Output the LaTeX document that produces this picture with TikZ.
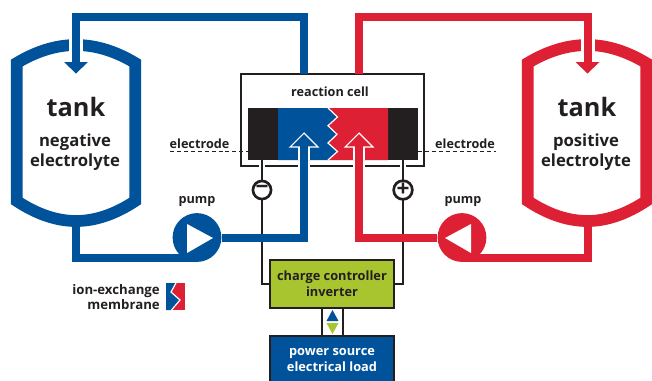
\documentclass[tikz,border=0pt]{standalone}
\usepackage{fontspec}
\setmainfont{Open Sans}
\definecolor{fbblue}{HTML}{00529B}
\definecolor{fbred}{HTML}{DD2033}
\definecolor{fbgreen}{HTML}{A8C530}
\definecolor{fbdark}{HTML}{231F20}
\tikzset{
  tankwall/.style={line width=8.8pt,line join=miter},
  pipe/.style={line width=6pt,line join=miter},
  casing/.style={white,line width=8.4pt},
  wire/.style={fbdark,line width=1.6pt,line join=miter},
  wirecase/.style={white,line width=4.6pt},
  lbl/.style={font=\bfseries\fontsize{9.5}{11}\selectfont,text=fbdark,inner sep=0pt},
  biglbl/.style={font=\bfseries\fontsize{12.5}{15}\selectfont,text=fbdark,inner sep=0pt,align=center},
  tanklbl/.style={font=\bfseries\fontsize{19}{22}\selectfont,text=fbdark,inner sep=0pt},
  pumpnode/.style={circle,minimum size=36.6pt,inner sep=0pt},
  polar/.style={circle,draw=fbdark,fill=white,line width=2pt,minimum size=13.6pt,inner sep=0pt,font=\bfseries\fontsize{17}{17}\selectfont,text=fbdark},
  boxctl/.style={draw=fbdark,line width=2pt,inner sep=0pt,align=center,font=\bfseries\fontsize{9.6}{12}\selectfont},
}
\begin{document}
\begin{tikzpicture}[x=0.75pt,y=-0.75pt]
\useasboundingbox (0,0) rectangle (652,380);
% named points
\coordinate (LT) at (76,45); \coordinate (RT) at (587.5,45);
\coordinate (Lhead) at (76,64); \coordinate (Rhead) at (587.5,64);
\coordinate (Ltop) at (76,17); \coordinate (Rtop) at (587.5,17);
\coordinate (Lcell) at (304,17); \coordinate (Rcell) at (359,17);
\coordinate (Lbot) at (76,258); \coordinate (Rbot) at (587.5,258);
\coordinate (Lin) at (304,237.5); \coordinate (Rin) at (359,237.5);
\coordinate (Lup) at (304,147); \coordinate (Rup) at (359,147);

% tanks
\draw[tankwall,fbblue] (16.8,63) .. controls (35,52) and (55,45) .. (LT)
   .. controls (97,45) and (117,52) .. (135.2,63) -- (135.2,201)
   .. controls (117,213) and (97,221) .. (76,221)
   .. controls (55,221) and (35,213) .. (16.8,201) -- cycle;
\draw[tankwall,fbred] (527.8,63) .. controls (546,52) and (566,45) .. (RT)
   .. controls (608,45) and (628,52) .. (646.2,63) -- (646.2,201)
   .. controls (628,213) and (608,221) .. (587.5,221)
   .. controls (566,221) and (546,213) .. (527.8,201) -- cycle;
\fill[white] (69,30) rectangle (83,58);
\fill[white] (580.5,30) rectangle (594.5,58);

% pumps
\node[pumpnode,fill=fbblue] (pumpL) at (197,237.5) {};
\node[pumpnode,fill=fbred] (pumpR) at (462,237.5) {};
\fill[white] (187,224) -- (213,238) -- (187,253) -- cycle;
\fill[white] (471,224) -- (445,238) -- (471,253) -- cycle;

% reaction cell
\node[draw=fbdark,fill=white,line width=1.6pt,minimum width=137pt,minimum height=69pt,inner sep=0pt] (cell) at (332.5,120) {};
\fill[fbdark] (248,108) rectangle (278,160);
\fill[fbdark] (388,108) rectangle (418,160);
\fill[fbblue] (278,108) -- (328,108) -- (337.5,117) -- (328,125.7) -- (337,134.3) -- (328,143) -- (337.5,151.5) -- (328,160) -- (278,160) -- cycle;
\fill[fbred] (388,108) -- (328,108) -- (337.5,117) -- (328,125.7) -- (337,134.3) -- (328,143) -- (337.5,151.5) -- (328,160) -- (388,160) -- cycle;
\draw[white,line width=0.9pt] (328,108) -- (337.5,117) -- (328,125.7) -- (337,134.3) -- (328,143) -- (337.5,151.5) -- (328,160);
\draw[fbdark,line width=0.7pt,dash pattern=on 3pt off 2.2pt] (170,151) -- (248,151);
\draw[fbdark,line width=0.7pt,dash pattern=on 3pt off 2.2pt] (418,151) -- (496,151);

% controller, power
\node[boxctl,fill=fbgreen,text=fbdark,minimum width=93pt,minimum height=36pt] (ctl) at (332,284) {charge controller\\inverter};
\node[boxctl,fill=fbblue,text=white,minimum width=93pt,minimum height=36pt] (pwr) at (332,360) {power source\\electrical load};

% wires
\coordinate (Wl) at (262,284); \coordinate (Wr) at (403,284);
\coordinate (Wl0) at (262,160); \coordinate (Wr0) at (403,160);
\draw[wirecase] (Wl0) -- (262,175);
\draw[wirecase] (Wr0) -- (403,175);
\draw[wire] (Wl0) -- (Wl) -- (ctl.west |- Wl);
\draw[wire] (Wr0) -- (Wr) -- (ctl.east |- Wr);
\node[polar] (minus) at (262,190) {−};
\node[polar] (plus) at (403,190) {+};
\draw[wire] (322,308) -- (322,336);
\draw[wire] (343,308) -- (343,336);
\fill[fbblue] (332.5,310) -- (338.5,321) -- (326.5,321) -- cycle;
\fill[fbgreen] (332.5,334) -- (338.5,323) -- (326.5,323) -- cycle;

% pipes
\draw[pipe,fbblue,line cap=butt] (Lhead) -- (Ltop) -- (Lcell) -- (304,74);
\draw[pipe,fbred,line cap=butt] (Rhead) -- (Rtop) -- (Rcell) -- (359,74);
\fill[fbblue] (64,62) -- (88,62) -- (76,73.5) -- cycle;
\fill[fbred] (575.5,62) -- (599.5,62) -- (587.5,73.5) -- cycle;
\draw[pipe,fbblue] (76,224) -- (Lbot) -- (197,258);
\draw[pipe,fbred] (587.5,224) -- (Rbot) -- (462,258);
\draw[casing] (Lin |- cell.south) ++(0,-6) -- ++(0,14);
\draw[casing] (Rin |- cell.south) ++(0,-6) -- ++(0,14);
\draw[white,line width=8.4pt] (Lup) -- (304,160);
\draw[white,line width=8.4pt] (Rup) -- (359,160);
\draw[pipe,fbblue] (pumpL.east) -- (Lin) -- (Lup);
\draw[pipe,fbred] (pumpR.west) -- (Rin) -- (Rup);
\fill[fbblue,draw=white,line width=0.8pt,line join=miter] (290,147) -- (304,133) -- (318,147) -- cycle;
\fill[fbred,draw=white,line width=0.8pt,line join=miter] (345,147) -- (359,133) -- (373,147) -- cycle;
\fill[fbblue] (300,144) rectangle (308,149);
\fill[fbred] (355,144) rectangle (363,149);

% legend
\fill[fbred] (172,283) rectangle (185,310);
\fill[fbblue] (166,283) -- (176,283) -- (171,292) -- (180,300) -- (171.5,310) -- (166,310) -- cycle;
\draw[white,line width=0.9pt] (176,283) -- (171,292) -- (180,300) -- (171.5,310);

% labels
\node[tanklbl] (t1) at (76,107) {tank};
\node[tanklbl] (t2) at (587,107) {tank};
\node[biglbl] (n1) at (75,152.5) {negative\\electrolyte};
\node[biglbl] (n2) at (586,152.5) {positive\\electrolyte};
\node[lbl] (e1) at (199.5,143.5) {electrode};
\node[lbl] (e2) at (465,143.5) {electrode};
\node[lbl] (p1) at (197,201) {pump};
\node[lbl] (p2) at (463,201) {pump};
\node[lbl] (rc) at (330,91.5) {reaction cell};
\node[lbl,align=right,anchor=east,font=\bfseries\fontsize{9.9}{11.2}\selectfont] (ion) at (160,297.5) {ion-exchange\\membrane};
\end{tikzpicture}
\end{document}
